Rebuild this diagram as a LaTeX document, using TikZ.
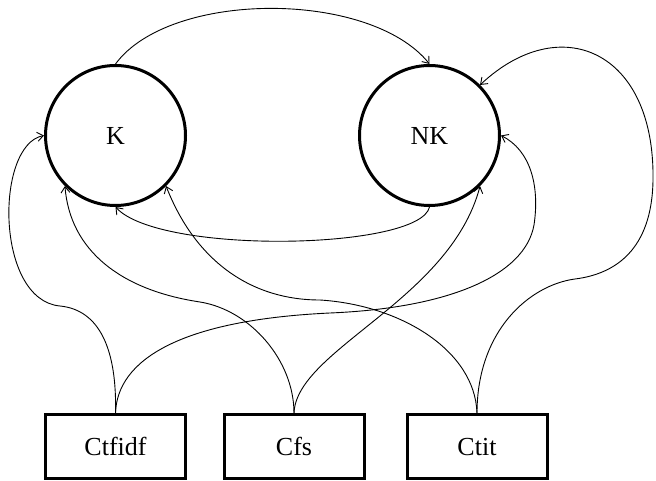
\documentclass[tikz,border=0pt]{standalone}
\usepackage{fontspec}
\setmainfont{Liberation Serif}
\usetikzlibrary{arrows.meta}

\begin{document}
\begin{tikzpicture}[
  x=1pt, y=-1pt,
  >={Straight Barb[length=6pt, width=9pt]},
  font=\fontsize{26}{30}\selectfont,
  catnode/.style={circle, draw, line width=3pt, minimum size=140pt, inner sep=0pt},
  featbox/.style={rectangle, draw, line width=3pt, minimum width=140pt, minimum height=64pt, inner sep=0pt},
  link/.style={->, line width=0.9pt},
  ]
  \useasboundingbox (0,0) rectangle (656,481);

  % Classes
  \node[catnode] (k) at (115.5,135.5) {K};
  \node[catnode] (nk) at (429.5,135.5) {NK};

  % Feature boxes
  \node[featbox] (ctfidf) at (115.5,446.75) {Ctfidf};
  \node[featbox] (cfs) at (294,446.75) {Cfs};
  \node[featbox] (ctit) at (477,446.75) {Ctit};

  % Between the classes
  \draw[link] (k.north) .. controls (170,-10) and (370,-10) .. (nk.north);
  \draw[link] (nk.south) .. controls (420,250) and (160,255) .. (k.south);

  % Ctfidf
  \draw[link] (ctfidf.north) .. controls (117,350) and (100,310) .. (60,306)
    .. controls (-5,300) and (-5,145) .. (k.west);
  \draw[link] (ctfidf.north) .. controls (117,360) and (180,320) .. (330,313)
    .. controls (450,308) and (525,275) .. (534,225)
    .. controls (540,185) and (530,150) .. (nk.east);

  % Cfs
  \draw[link] (cfs.north) .. controls (294,360) and (250,310) .. (200,302)
    .. controls (120,290) and (70,250) .. (k.south west);
  \draw[link] (cfs.north) .. controls (296,350) and (450,300) .. (nk.south east);

  % Ctit
  \draw[link] (ctit.north) .. controls (475,350) and (400,305) .. (320,300)
    .. controls (250,300) and (195,260) .. (k.south east);
  \draw[link] (ctit.north) .. controls (477,330) and (530,285) .. (575,279)
    .. controls (615,274) and (652,250) .. (653,180)
    .. controls (655,50) and (560,10) .. (nk.north east);
\end{tikzpicture}
\end{document}
